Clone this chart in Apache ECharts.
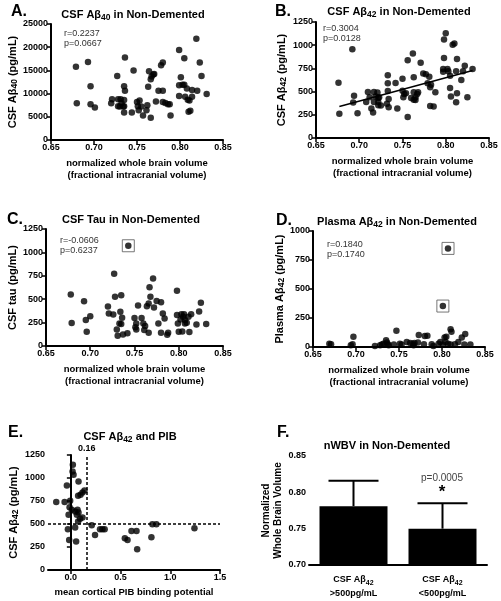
<!DOCTYPE html>
<html><head><meta charset="utf-8">
<script src="https://cdn.jsdelivr.net/npm/echarts@6/dist/echarts.min.js"></script>
<style>html,body{margin:0;background:#fff}#c{width:501px;height:601px}</style>
</head><body><div id="c"></div>
<script>
const FONT = '"Liberation Sans", Arial, Helvetica, sans-serif';

// ---- Panel A: nWBV vs CSF Aβ40 ----
const panelA = [[0.679,15800],[0.680,7900],[0.693,16800],[0.696,11600],[0.696,7700],[0.701,7000],[0.721,8800],[0.720,7900],[0.727,13800],[0.728,8800],[0.728,7300],[0.730,7200],[0.731,8800],[0.732,7900],[0.734,7200],[0.735,5900],[0.735,8600],[0.735,11600],[0.736,10600],[0.736,17800],[0.735,7300],[0.744,5900],[0.746,15000],[0.750,8200],[0.751,7300],[0.752,6400],[0.753,8500],[0.755,7200],[0.757,5300],[0.761,6400],[0.762,7500],[0.763,11500],[0.764,14800],[0.766,13100],[0.767,13700],[0.769,14100],[0.770,14200],[0.766,4800],[0.772,8300],[0.775,10600],[0.778,16100],[0.780,16700],[0.780,10600],[0.780,8200],[0.783,8000],[0.786,7700],[0.788,7700],[0.789,5300],[0.799,19400],[0.799,11800],[0.799,9500],[0.801,13500],[0.803,11900],[0.805,17600],[0.805,11900],[0.806,9300],[0.808,11100],[0.809,8700],[0.811,8500],[0.810,6100],[0.812,6300],[0.814,10800],[0.819,21800],[0.820,10600],[0.823,16700],[0.825,13800],[0.831,9900],[0.814,9300]];
const statsA = ['r=0.2237','p=0.0667'];

// ---- Panel B: nWBV vs CSF Aβ42 ----
const panelB = [[0.676,596],[0.677,261],[0.692,957],[0.694,454],[0.693,382],[0.698,268],[0.708,389],[0.710,496],[0.712,439],[0.714,318],[0.716,275],[0.717,389],[0.717,496],[0.719,446],[0.721,489],[0.722,432],[0.722,389],[0.723,439],[0.722,354],[0.725,350],[0.733,675],[0.733,589],[0.733,507],[0.734,421],[0.732,368],[0.734,332],[0.742,593],[0.744,318],[0.750,639],[0.750,510],[0.751,439],[0.752,475],[0.754,482],[0.756,839],[0.762,911],[0.763,493],[0.763,654],[0.760,432],[0.763,411],[0.765,439],[0.767,475],[0.765,410],[0.756,225],[0.768,493],[0.771,811],[0.774,696],[0.777,686],[0.779,589],[0.781,661],[0.783,575],[0.782,346],[0.786,339],[0.782,546],[0.788,493],[0.797,743],[0.797,714],[0.798,861],[0.798,1061],[0.800,1129],[0.802,743],[0.803,718],[0.805,671],[0.805,539],[0.806,446],[0.808,1004],[0.810,1018],[0.812,718],[0.812,386],[0.813,482],[0.813,850],[0.818,625],[0.820,718],[0.822,779],[0.825,439],[0.831,743]];
const regLineB = [[0.677,340],[0.831,728]];
const statsB = ['r=0.3004','p=0.0128'];

// ---- Panel C: nWBV vs CSF tau ----
const panelC = [[0.678,550],[0.679,245],[0.693,479],[0.695,277],[0.696,152],[0.700,319],[0.720,422],[0.721,348],[0.726,337],[0.728,525],[0.730,177],[0.731,110],[0.735,543],[0.734,365],[0.733,241],[0.735,234],[0.736,301],[0.737,124],[0.742,135],[0.750,298],[0.751,199],[0.752,241],[0.752,177],[0.754,433],[0.758,298],[0.760,241],[0.761,170],[0.762,213],[0.764,425],[0.766,454],[0.766,142],[0.768,525],[0.772,411],[0.775,482],[0.777,241],[0.780,142],[0.780,468],[0.782,348],[0.784,294],[0.787,121],[0.788,142],[0.798,590],[0.798,330],[0.799,241],[0.800,152],[0.802,284],[0.803,340],[0.805,312],[0.804,156],[0.807,277],[0.806,340],[0.807,241],[0.809,248],[0.811,312],[0.812,149],[0.814,340],[0.820,230],[0.823,369],[0.825,461],[0.831,234],[0.727,773],[0.767,628],[0.771,720],[0.743,1071]];
const boxedC = [[0.743,1071]];
const statsC = ['r=-0.0606','p=0.6237'];

// ---- Panel D: nWBV vs plasma Aβ42 ----
const panelD = [[0.669,29],[0.671,24],[0.694,15],[0.696,24],[0.697,88],[0.722,9],[0.728,15],[0.730,21],[0.732,29],[0.735,59],[0.736,38],[0.737,24],[0.738,15],[0.747,141],[0.744,21],[0.751,29],[0.753,21],[0.759,44],[0.763,35],[0.766,29],[0.767,15],[0.768,35],[0.772,38],[0.773,103],[0.780,94],[0.783,97],[0.779,24],[0.788,24],[0.790,9],[0.796,29],[0.798,44],[0.801,21],[0.803,82],[0.805,88],[0.804,44],[0.807,29],[0.810,153],[0.811,132],[0.810,21],[0.815,24],[0.819,44],[0.823,82],[0.827,112],[0.826,21],[0.833,21],[0.801,353],[0.807,850]];
const boxedD = [[0.801,353],[0.807,850]];
const statsD = ['r=0.1840','p=0.1740'];

// ---- Panel E: PIB vs CSF Aβ42 ----
const panelE = [[0.02,1144],[0.017,1071],[0.027,1035],[-0.04,919],[0.077,962],[-0.147,738],[-0.063,738],[-0.007,752],[0.137,864],[0.117,842],[0.097,817],[0.073,806],[-0.013,683],[0.01,654],[0.043,636],[0.067,654],[0.077,625],[-0.023,600],[0.06,600],[0.117,570],[0.093,556],[0.073,526],[-0.03,443],[0.043,461],[-0.017,327],[0.053,309],[0.21,487],[0.243,381],[0.293,442],[0.317,442],[0.34,442],[0.543,344],[0.57,326],[0.61,424],[0.66,424],[0.667,225],[0.81,355],[0.82,496],[0.86,496],[1.243,453]];
const pibCut = 0.16;
const abCut = 500;
const ticksE = [0, 0.5, 1.0, 1.5];

// ---- Panel F: nWBV by CSF Aβ42 group ----
const groupsF = ['>500pg/mL', '<500pg/mL'];
const meanF = [0.781, 0.750];
const sdF = [0.035, 0.035];

const sub = {fontSize: 8, fontWeight: 'bold', fontFamily: FONT, verticalAlign: 'bottom', padding: [5, 0, 0, 0]};
const subT = {fontSize: 8.5, fontWeight: 'bold', fontFamily: FONT, verticalAlign: 'bottom', padding: [6, 0, 0, 0]};

const grids = [
  {left: 51, top: 24, width: 172, height: 116},
  {left: 316, top: 22, width: 173, height: 116},
  {left: 46, top: 229, width: 177, height: 117},
  {left: 313, top: 231, width: 172, height: 116},
  {left: 48, top: 455, width: 172, height: 115},
  {left: 309, top: 456, width: 178, height: 115}
];

const axLine = {lineStyle: {color: '#000', width: 2}};
const axTick = {length: 4, lineStyle: {color: '#000', width: 1.5}};
const axLab = {color: '#000', fontSize: 9, fontWeight: 'bold', fontFamily: FONT, margin: 3};
const xNameStyle = {color: '#000', fontSize: 9.5, fontWeight: 'bold', fontFamily: FONT, lineHeight: 12};
const yNameStyle = {color: '#000', fontSize: 11, fontWeight: 'bold', fontFamily: FONT, lineHeight: 12,
  rich: {sub: {fontSize: 8.5, fontWeight: 'bold', fontFamily: FONT, verticalAlign: 'bottom', padding: [5, 0, 0, 0]}}};

function nwbvX(i) {
  return {type: 'value', gridIndex: i, min: 0.65, max: 0.85, interval: 0.05,
    name: 'normalized whole brain volume\n(fractional intracranial volume)', nameLocation: 'middle', nameGap: 17,
    nameTextStyle: xNameStyle, axisLine: axLine, axisTick: axTick, splitLine: {show: false},
    axisLabel: Object.assign({}, axLab, {formatter: v => v.toFixed(2)})};
}
function valY(i, max, interval, name, gap, dec, ns) {
  return {type: 'value', gridIndex: i, min: i === 5 ? 0.70 : 0, max: max, interval: interval,
    name: name, nameLocation: 'middle', nameGap: gap, nameRotate: 90,
    nameTextStyle: ns || yNameStyle, axisLine: axLine, axisTick: axTick, splitLine: {show: false},
    axisLabel: Object.assign({}, axLab, {formatter: v => dec ? v.toFixed(dec) : String(Math.round(v))})};
}

const xAxes = [nwbvX(0), nwbvX(1), nwbvX(2), nwbvX(3),
  {type: 'value', gridIndex: 4, min: -0.23, max: 1.5,
    name: 'mean cortical PIB binding potential', nameLocation: 'middle', nameGap: 16,
    nameTextStyle: xNameStyle, axisLine: axLine, splitLine: {show: false},
    axisTick: Object.assign({}, axTick, {customValues: ticksE}),
    axisLabel: Object.assign({}, axLab, {customValues: ticksE, formatter: v => v.toFixed(1)})},
  {type: 'category', gridIndex: 5, data: groupsF, axisLine: axLine, axisTick: {show: false},
    axisLabel: Object.assign({}, axLab, {margin: 8, lineHeight: 14,
      formatter: v => 'CSF Aβ{s|42}\n' + v, rich: {s: {fontSize: 7, fontWeight: 'bold', fontFamily: FONT, verticalAlign: 'bottom', padding: [4,0,0,0]}}})}
];
const yAxes = [
  valY(0, 25000, 5000, 'CSF Aβ{sub|40} (pg/mL)', 30),
  valY(1, 1250, 250, 'CSF Aβ{sub|42} (pg/mL)', 28),
  valY(2, 1250, 250, 'CSF tau (pg/mL)', 27),
  valY(3, 1000, 250, 'Plasma Aβ{sub|42} (pg/mL)', 26),
  valY(4, 1250, 250, 'CSF Aβ{sub|42} (pg/mL)', 28),
  valY(5, 0.85, 0.05, 'Normalized\nWhole Brain Volume', 24, 2,
    {color: '#000', fontSize: 10, fontWeight: 'bold', fontFamily: FONT, lineHeight: 12})
];

const dot = {type: 'scatter', symbolSize: 6.5, itemStyle: {color: '#000'}, silent: true};
const box = {type: 'scatter', symbol: 'rect', symbolSize: 12, z: 1, silent: true,
  itemStyle: {color: 'rgba(0,0,0,0)', borderColor: '#555', borderWidth: 1}};

const series = [
  Object.assign({}, dot, {xAxisIndex: 0, yAxisIndex: 0, data: panelA}),
  Object.assign({}, dot, {xAxisIndex: 1, yAxisIndex: 1, data: panelB}),
  {type: 'line', xAxisIndex: 1, yAxisIndex: 1, data: regLineB, symbol: 'none', lineStyle: {color: '#000', width: 1.5}, silent: true},
  Object.assign({}, dot, {xAxisIndex: 2, yAxisIndex: 2, data: panelC}),
  Object.assign({}, box, {xAxisIndex: 2, yAxisIndex: 2, data: boxedC}),
  Object.assign({}, dot, {xAxisIndex: 3, yAxisIndex: 3, data: panelD}),
  Object.assign({}, box, {xAxisIndex: 3, yAxisIndex: 3, data: boxedD}),
  Object.assign({}, dot, {xAxisIndex: 4, yAxisIndex: 4, data: panelE,
    markLine: {silent: true, symbol: ['none', 'none'], animation: false,
      lineStyle: {type: [3, 2], color: '#000', width: 1.5},
      data: [
        {xAxis: pibCut, label: {show: true, position: 'end', formatter: String(pibCut), color: '#000', fontSize: 9, fontWeight: 'bold', fontFamily: FONT, distance: 2}},
        {yAxis: abCut, label: {show: false}}
      ]}}),
  {type: 'bar', xAxisIndex: 5, yAxisIndex: 5, data: meanF, barWidth: 68, itemStyle: {color: '#000'}, silent: true},
  {type: 'custom', xAxisIndex: 5, yAxisIndex: 5, silent: true, z: 3,
    data: meanF.map((m, i) => [i, m, m + sdF[i]]),
    renderItem: function (params, api) {
      const b = api.coord([api.value(0), api.value(1)]);
      const t = api.coord([api.value(0), api.value(2)]);
      const hw = 25;
      const st = {stroke: '#000', lineWidth: 2};
      return {type: 'group', children: [
        {type: 'line', shape: {x1: b[0], y1: b[1], x2: t[0], y2: t[1]}, style: st},
        {type: 'line', shape: {x1: t[0] - hw, y1: t[1], x2: t[0] + hw, y2: t[1]}, style: st}
      ]};
    }}
];

function txt(x, y, text, size, weight, align, color, rich) {
  return {type: 'text', x: x, y: y, silent: true,
    style: {text: text, fill: color || '#000', font: (weight || 'normal') + ' ' + size + 'px ' + FONT,
      textAlign: align || 'left', textVerticalAlign: 'middle', rich: rich}};
}
const titleRich = {s: subT};
const statStyle = (x, y, arr) => [txt(x, y, arr[0], 9, 'normal', 'left', '#333'), txt(x, y + 9.5, arr[1], 9, 'normal', 'left', '#333')];

const graphics = [
  txt(11, 12, 'A.', 16, 'bold'),
  txt(275, 12, 'B.', 16, 'bold'),
  txt(7, 220, 'C.', 16, 'bold'),
  txt(276, 221, 'D.', 16, 'bold'),
  txt(8, 433, 'E.', 16, 'bold'),
  txt(277, 433, 'F.', 16, 'bold'),
  txt(133, 15, 'CSF Aβ{s|40} in Non-Demented', 11, 'bold', 'center', '#000', titleRich),
  txt(399, 12, 'CSF Aβ{s|42} in Non-Demented', 11, 'bold', 'center', '#000', titleRich),
  txt(131, 220, 'CSF Tau in Non-Demented', 11, 'bold', 'center'),
  txt(397, 222, 'Plasma Aβ{s|42} in Non-Demented', 11, 'bold', 'center', '#000', titleRich),
  txt(130, 437, 'CSF Aβ{s|42} and PIB', 11, 'bold', 'center', '#000', titleRich),
  txt(387, 446, 'nWBV in Non-Demented', 11, 'bold', 'center'),
  ...statStyle(64, 34, statsA),
  ...statStyle(323, 29, statsB),
  ...statStyle(60, 241, statsC),
  ...statStyle(327, 245, statsD),
  txt(442, 478, 'p=0.0005', 10, 'normal', 'center', '#444'),
  txt(442, 492, '*', 17, 'bold', 'center')
];

const chart = echarts.init(document.getElementById('c'), null, {renderer: 'canvas'});
chart.setOption({
  animation: false,
  backgroundColor: '#fff',
  textStyle: {fontFamily: FONT},
  grid: grids,
  xAxis: xAxes,
  yAxis: yAxes,
  series: series,
  graphic: graphics
});
</script>
</body></html>
